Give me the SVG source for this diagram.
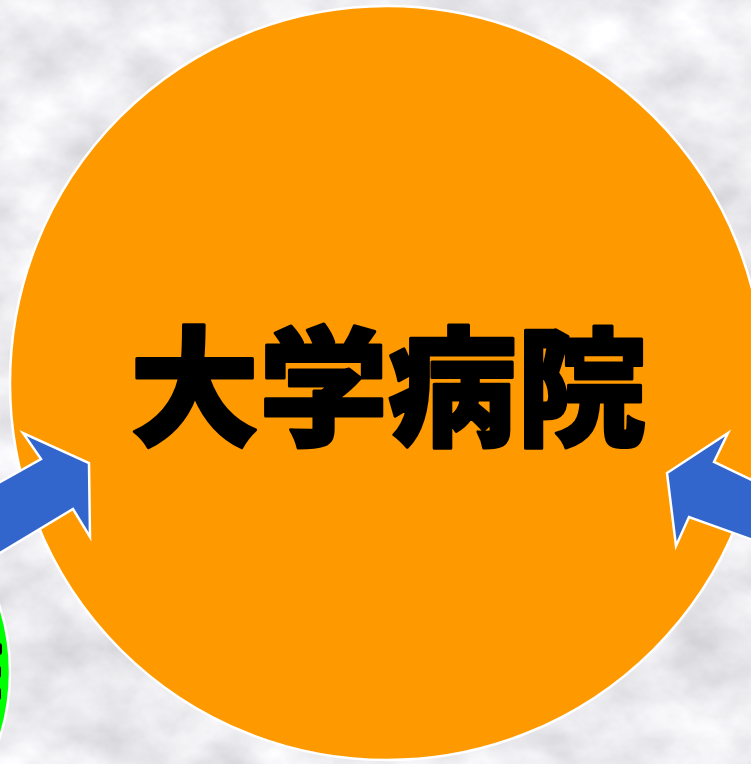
<svg xmlns="http://www.w3.org/2000/svg" width="751" height="764" viewBox="0 0 751 764">
<defs>
<filter id="marble" x="0" y="0" width="100%" height="100%" filterUnits="userSpaceOnUse">
<feTurbulence type="fractalNoise" baseFrequency="0.012 0.016" numOctaves="5" seed="7" result="n"/>
<feColorMatrix in="n" type="matrix" values="0.55 0 0 0 0.56  0.55 0 0 0 0.56  0.55 0 0 0 0.59  0 0 0 0 1"/>
</filter>
<style>
.arrow{fill:#3366CC;stroke:#ffffff;stroke-width:2.5;stroke-linejoin:miter}
.label{font-family:"Noto Sans CJK JP","Noto Sans CJK SC",sans-serif;font-weight:900;fill:#000;stroke:#000;stroke-width:3;stroke-linejoin:round}
</style>
</defs>
<rect id="background" x="0" y="0" width="751" height="764" filter="url(#marble)"/>
<g id="green-node">
<circle cx="-206" cy="672" r="216" fill="#00FF00" stroke="#ffffff" stroke-width="2.5"/>
<rect x="-4" y="643" width="6" height="12" rx="3" fill="#000"/>
<rect x="-4" y="666" width="5" height="12" rx="2.5" fill="#000"/>
<rect x="-4" y="688" width="5" height="12" rx="2.5" fill="#000"/>
</g>
<g id="hospital-node">
<circle cx="387" cy="383" r="377" fill="#FF9900" stroke="#ffffff" stroke-width="2.5"/>
<text class="label" x="388" y="436" font-size="129" text-anchor="middle">大学病院</text>
</g>
<g id="connectors">
<polygon class="arrow" points="-5,485 41,459 23,433 89,463 90,537 73,509 -5,556"/>
<polygon class="arrow" points="756,482 714,462 728,433 667,473 676,546 689,517 756,541"/>
</g>
</svg>
